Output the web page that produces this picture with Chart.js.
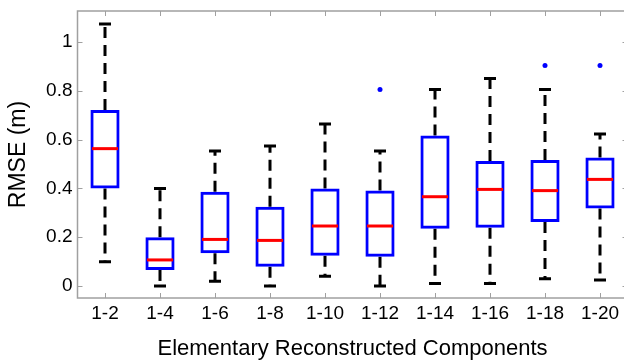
<!DOCTYPE html>
<html>
<head>
<meta charset="utf-8">
<script src="https://cdn.jsdelivr.net/npm/chart.js@4"></script>
<style>
  html, body { margin: 0; padding: 0; background: #fff; overflow: hidden; }
  #wrap { width: 624px; height: 361px; overflow: hidden; }
</style>
</head>
<body>
<div id="wrap"><canvas id="boxChart" width="632" height="361"></canvas></div>
<script>
// categories
var labels = ['1-2', '1-4', '1-6', '1-8', '1-10', '1-12', '1-14', '1-16', '1-18', '1-20'];
// box plot statistics (RMSE in m)
var whiskerLow  = [0.10, 0.00, 0.02, 0.00, 0.04, 0.00, 0.01, 0.01, 0.03, 0.025];
var q1          = [0.40, 0.066, 0.134, 0.079, 0.124, 0.12, 0.235, 0.239, 0.262, 0.318];
var median      = [0.563, 0.107, 0.191, 0.187, 0.246, 0.246, 0.366, 0.396, 0.391, 0.437];
var q3          = [0.721, 0.20, 0.386, 0.325, 0.40, 0.391, 0.617, 0.512, 0.516, 0.527];
var whiskerHigh = [1.074, 0.40, 0.553, 0.574, 0.664, 0.553, 0.805, 0.85, 0.805, 0.623];
var outliers    = [null, null, null, null, null, 0.805, null, null, 0.904, 0.904];
// y tick values
var yTicks = [0, 0.2, 0.4, 0.6, 0.8, 1];

var frameColor = '#a0a0a0';
var fontFamily = '"Liberation Sans", Arial, sans-serif';

// whiskers, caps, medians, frame and inward ticks drawn with the chart scales
var boxPlotExtras = {
    id: 'boxPlotExtras',
    beforeDatasetsDraw: function (chart) {
        var ctx = chart.ctx;
        var x = chart.scales.x, y = chart.scales.y;
        ctx.save();
        ctx.strokeStyle = '#000';
        ctx.lineWidth = 3;
        labels.forEach(function (lab, i) {
            var px = x.getPixelForValue(i);
            // dashed whiskers, drawn from the box outwards
            ctx.setLineDash([11, 7]);
            ctx.beginPath();
            ctx.moveTo(px, y.getPixelForValue(q3[i]));
            ctx.lineTo(px, y.getPixelForValue(whiskerHigh[i]));
            ctx.stroke();
            ctx.beginPath();
            ctx.moveTo(px, y.getPixelForValue(q1[i]));
            ctx.lineTo(px, y.getPixelForValue(whiskerLow[i]));
            ctx.stroke();
            // caps
            ctx.setLineDash([]);
            ctx.beginPath();
            ctx.moveTo(px - 6, y.getPixelForValue(whiskerHigh[i]));
            ctx.lineTo(px + 6, y.getPixelForValue(whiskerHigh[i]));
            ctx.moveTo(px - 6, y.getPixelForValue(whiskerLow[i]));
            ctx.lineTo(px + 6, y.getPixelForValue(whiskerLow[i]));
            ctx.stroke();
        });
        ctx.restore();
    },
    afterDatasetsDraw: function (chart) {
        var ctx = chart.ctx;
        var x = chart.scales.x, y = chart.scales.y;
        var half = x.getPixelForValue(1) - x.getPixelForValue(0);
        half = half * 0.53 / 2 - 1.5;
        ctx.save();
        ctx.strokeStyle = '#ff0000';
        ctx.lineWidth = 3;
        labels.forEach(function (lab, i) {
            var px = x.getPixelForValue(i);
            var py = y.getPixelForValue(median[i]);
            ctx.beginPath();
            ctx.moveTo(px - half, py);
            ctx.lineTo(px + half, py);
            ctx.stroke();
        });

        // frame
        var a = chart.chartArea;
        ctx.strokeStyle = frameColor;
        ctx.lineWidth = 1.5;
        ctx.strokeRect(a.left, a.top, a.right - a.left, a.bottom - a.top);
        ctx.lineWidth = 1;
        ctx.beginPath();
        yTicks.forEach(function (v) {
            var py = Math.round(y.getPixelForValue(v)) + 0.5;
            ctx.moveTo(a.left, py);
            ctx.lineTo(a.left + 5, py);
            ctx.moveTo(a.right, py);
            ctx.lineTo(a.right - 5, py);
        });
        labels.forEach(function (lab, i) {
            var px = Math.round(x.getPixelForValue(i)) + 0.5;
            ctx.moveTo(px, a.bottom);
            ctx.lineTo(px, a.bottom - 5);
            ctx.moveTo(px, a.top);
            ctx.lineTo(px, a.top + 5);
        });
        ctx.stroke();
        ctx.restore();
    }
};

var boxes = labels.map(function (lab, i) { return [q1[i], q3[i]]; });

new Chart(document.getElementById('boxChart').getContext('2d'), {
    type: 'bar',
    data: {
        labels: labels,
        datasets: [{
            type: 'bar',
            data: boxes,
            backgroundColor: 'rgba(0,0,0,0)',
            borderColor: '#0000ff',
            borderWidth: 3,
            borderSkipped: false,
            categoryPercentage: 1,
            barPercentage: 0.53
        }, {
            type: 'line',
            data: outliers,
            showLine: false,
            pointRadius: 2.5,
            pointBackgroundColor: '#0000ff',
            pointBorderColor: '#0000ff',
            pointBorderWidth: 0
        }]
    },
    plugins: [boxPlotExtras],
    options: {
        responsive: false,
        animation: false,
        layout: { padding: { top: 11, right: 4.5, left: 0, bottom: 0 } },
        plugins: {
            legend: { display: false },
            tooltip: { enabled: false }
        },
        scales: {
            x: {
                grid: { display: false, drawTicks: false },
                border: { display: false },
                ticks: {
                    color: '#000',
                    padding: 4,
                    maxRotation: 0,
                    font: { family: fontFamily, size: 19 }
                },
                title: {
                    display: true,
                    text: 'Elementary Reconstructed Components',
                    color: '#000',
                    padding: { top: 0, bottom: -1 },
                    font: { family: fontFamily, size: 22 }
                },
                afterFit: function (scale) {
                    scale.height = 63;
                    scale.paddingLeft = 0;
                    scale.paddingRight = 0;
                }
            },
            y: {
                min: -0.049,
                max: 1.127,
                grid: { display: false, drawTicks: false },
                border: { display: false },
                afterBuildTicks: function (scale) {
                    scale.ticks = yTicks.map(function (v) { return { value: v }; });
                },
                ticks: {
                    color: '#000',
                    padding: 5,
                    font: { family: fontFamily, size: 19 },
                    callback: function (v) { return String(Math.round(v * 10) / 10); }
                },
                title: {
                    display: true,
                    text: 'RMSE (m)',
                    color: '#000',
                    padding: { top: 5, bottom: 0 },
                    font: { family: fontFamily, size: 23 }
                },
                afterFit: function (scale) {
                    scale.width = 77.5;
                    scale.paddingTop = 0;
                    scale.paddingBottom = 0;
                }
            }
        }
    }
});
</script>
</body>
</html>
